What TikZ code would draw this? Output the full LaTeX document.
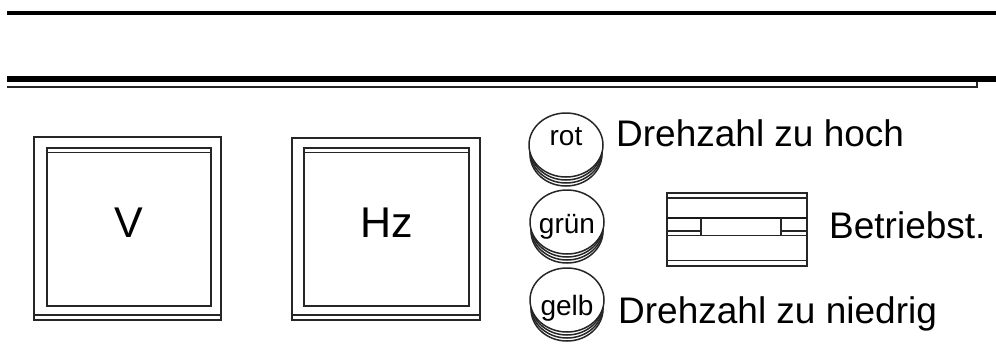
\documentclass[tikz,border=0pt]{standalone}
\usepackage{fontspec}
\setmainfont{Liberation Sans}
\begin{document}
\begin{tikzpicture}[x=1pt,y=-1pt,
  ln/.style={line width=1.6pt, draw=black!85},
  lbl/.style={font=\fontsize{37}{42}\selectfont, anchor=base west, inner sep=0pt},
  big/.style={font=\fontsize{43}{48}\selectfont, anchor=base, inner sep=0pt},
  led/.style={font=\fontsize{28}{32}\selectfont, anchor=base, inner sep=0pt},
  coin/.style={line width=1.5pt, draw=black!85, fill=white}]
\useasboundingbox (0,0) rectangle (996,349);
% top rails
\draw[line width=4.5pt] (7,13) -- (996,13);
\draw[line width=6pt] (7,79) -- (996,79);
\draw[ln] (7,87) -- (977,87) -- (977,82);
% meter V
\draw[ln] (34,137) rectangle (221,320);
\draw[ln] (34,315) -- (221,315);
\draw[ln] (47,148) rectangle (211,306);
\draw[ln] (47,152.5) -- (211,152.5);
\node[big] (v) at (129,237) {V};
% meter Hz
\draw[ln] (292,138) rectangle (480,320);
\draw[ln] (292,315) -- (480,315);
\draw[ln] (304,148) rectangle (469,306);
\draw[ln] (304,152.5) -- (469,152.5);
\node[big] (hz) at (387,237) {Hz};
% indicator lamps (stacked)
\foreach \cx/\cy in {566/145, 567/222, 567/300}{
  \draw[coin] (\cx,\cy+9) ellipse [x radius=36, y radius=32];
  \draw[coin] (\cx,\cy+6) ellipse [x radius=36, y radius=32];
  \draw[coin] (\cx,\cy+3) ellipse [x radius=36, y radius=32];
  \draw[coin] (\cx,\cy) ellipse [x radius=37, y radius=32];
}
\node[led] (rot) at (566,145) {rot};
\node[led] (gruen) at (567,233) {grün};
\node[led] (gelb) at (567,315) {gelb};
% labels
\node[lbl] (hoch) at (616,146) {Drehzahl zu hoch};
\node[lbl] (niedrig) at (618,323) {Drehzahl zu niedrig};
\node[lbl] (betr) at (829,238) {Betriebst.};
% switch
\draw[ln] (667,193) rectangle (807,266);
\draw[ln] (667,198) -- (807,198);
\draw[ln] (667,260.5) -- (807,260.5);
\draw[line width=2.2pt, draw=black!90] (667,218) -- (807,218);
\draw[ln] (667,235.5) -- (807,235.5);
\draw[ln] (667,231) -- (701,231);
\draw[ln] (781,231) -- (807,231);
\draw[ln] (701,218) -- (701,235.5);
\draw[ln] (781,218) -- (781,235.5);
\end{tikzpicture}
\end{document}
